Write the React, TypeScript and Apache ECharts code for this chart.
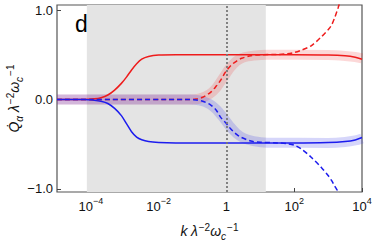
import React, { useEffect, useRef } from "react";
import * as echarts from "echarts";

// ---- axis settings / tick values ----
const X_MIN = 1e-5;
const X_MAX = 1e4;
const Y_MIN = -1.034;
const Y_MAX = 1.056;
const xTickValues = [1e-4, 1e-2, 1, 1e2, 1e4];
const yTickValues = [-1, 0, 1];
const yTickLabels = ["−1.0", "0.0", "1.0"];
const shadedFrom = 7.6e-5;
const shadedTo = 14.5;
const markerK = 1;
const panelLabel = "d";

// ---- series data: log10(k) positions and values ----
const redSolidLogK = [-5, -4.2, -3.9, -3.7, -3.5, -3.3, -3.1, -2.95, -2.8, -2.65, -2.5, -2.3, -2.0, -1.5, 2, 3, 3.5, 3.8, 4];
const redSolidQ = [0, 0, 0.007, 0.02, 0.05, 0.105, 0.18, 0.25, 0.33, 0.4, 0.45, 0.48, 0.496, 0.5, 0.5, 0.497, 0.488, 0.472, 0.45];

const blueSolidLogK = [-5, -4.2, -3.9, -3.7, -3.5, -3.3, -3.1, -2.95, -2.8, -2.65, -2.5, -2.3, -2.0, -1.5, 2, 3, 3.5, 3.8, 4];
const blueSolidQ = [0, 0, -0.008, -0.02, -0.045, -0.1, -0.18, -0.27, -0.36, -0.42, -0.45, -0.47, -0.48, -0.485, -0.487, -0.482, -0.47, -0.452, -0.425];

const redDashedLogK = [-5, -1.2, -0.9, -0.7, -0.47, -0.3, -0.18, -0.03, 0.13, 0.3, 0.45, 0.72, 1.0, 1.5, 1.8, 2.0, 2.2, 2.5, 2.8, 3.0, 3.1, 3.2, 3.3, 3.45];
const redDashedQ = [0, 0, 0.005, 0.025, 0.08, 0.15, 0.21, 0.305, 0.38, 0.43, 0.46, 0.49, 0.5, 0.503, 0.512, 0.525, 0.55, 0.6, 0.7, 0.78, 0.83, 0.92, 1.03, 1.22];

const blueDashedLogK = [-5, -1.2, -0.9, -0.7, -0.47, -0.3, -0.17, 0, 0.13, 0.3, 0.42, 0.72, 1.0, 1.5, 1.8, 2.0, 2.2, 2.5, 2.8, 3.0, 3.1, 3.2, 3.3, 3.45];
const blueDashedQ = [0, 0, -0.005, -0.02, -0.06, -0.12, -0.2, -0.27, -0.33, -0.39, -0.42, -0.465, -0.477, -0.485, -0.495, -0.51, -0.55, -0.645, -0.76, -0.85, -0.905, -0.97, -1.035, -1.17];

const redBandLogK = [-5, -1.1, -0.8, -0.5, -0.3, -0.1, 0.1, 0.3, 0.5, 0.8, 1.2, 3, 3.5, 3.8, 4];
const redBandQ = [0, 0, 0.01, 0.06, 0.13, 0.24, 0.35, 0.43, 0.47, 0.49, 0.5, 0.497, 0.487, 0.475, 0.46];

const blueBandLogK = [-5, -1.1, -0.8, -0.5, -0.3, -0.1, 0.1, 0.3, 0.5, 0.8, 1.2, 3, 3.5, 3.8, 4];
const blueBandQ = [0, 0, -0.01, -0.05, -0.11, -0.2, -0.3, -0.38, -0.43, -0.465, -0.483, -0.485, -0.475, -0.458, -0.435];

const RED = "#ee1c1c";
const BLUE = "#1c1cee";
const FONT = "Liberation Sans, Arial, sans-serif";

function pairs(logK: number[], q: number[]) {
  return logK.map((e, i) => [Math.pow(10, e), q[i]]);
}

function xLabel(v: number) {
  const e = Math.round(Math.log10(v));
  if (e === 0) return "{b|1}";
  return `{b|10}{s|${e < 0 ? "−" + -e : e}}`;
}

export default function App() {
  const ref = useRef<HTMLDivElement>(null);
  useEffect(() => {
    if (!ref.current) return;
    const chart = echarts.init(ref.current, undefined, { renderer: "svg" });
    const nameRich = {
      i: { fontSize: 14, lineHeight: 20, fontStyle: "italic", fontFamily: FONT, color: "#111", verticalAlign: "middle" },
      n: { fontSize: 14, lineHeight: 20, fontFamily: FONT, color: "#111", verticalAlign: "middle" },
      sup: { fontSize: 10, lineHeight: 10, fontFamily: FONT, color: "#111", verticalAlign: "top", padding: [1, 0, 0, 1] },
      sub: { fontSize: 10, lineHeight: 9, fontStyle: "italic", fontFamily: FONT, color: "#111", verticalAlign: "bottom" },
    };
    const bandLine = (data: number[][], color: string) => ({
      type: "line",
      data,
      showSymbol: false,
      smooth: 0.3,
      clip: true,
      z: 2,
      lineStyle: { width: 10, color, cap: "butt" },
      silent: true,
    });
    const curve = (data: number[][], color: string, dashed: boolean) => ({
      type: "line",
      data,
      showSymbol: false,
      smooth: 0.3,
      clip: true,
      z: 3,
      lineStyle: { width: 1.5, color, type: dashed ? [5, 3] : "solid" },
      silent: true,
    });
    chart.setOption({
      animation: false,
      grid: {
        left: 57,
        top: 5,
        right: 12,
        bottom: 49,
        outerBoundsMode: "none",
        containLabel: false,
        show: true,
        borderColor: "#555",
        borderWidth: 1.2,
        backgroundColor: "transparent",
      },
      xAxis: {
        type: "log",
        logBase: 10,
        min: X_MIN,
        max: X_MAX,
        axisLine: { show: false, onZero: false },
        splitLine: { show: false },
        minorTick: { show: false },
        axisTick: { show: true, inside: true, length: 4, lineStyle: { color: "#444" }, customValues: xTickValues },
        axisLabel: {
          customValues: xTickValues,
          formatter: (v: number) => xLabel(v),
          margin: 4,
          rich: {
            b: { fontSize: 13, lineHeight: 17, fontFamily: FONT, color: "#111", verticalAlign: "bottom" },
            s: { fontSize: 9, lineHeight: 10, fontFamily: FONT, color: "#111", verticalAlign: "top" },
          },
        },
        name: "{i|k} {i|λ}{sup|−2}{i|ω}{sub|c}{sup|−1}",
        nameLocation: "middle",
        nameGap: 29,
        nameMoveOverlap: false,
        nameTextStyle: { rich: nameRich },
      },
      yAxis: {
        type: "value",
        min: Y_MIN,
        max: Y_MAX,
        axisLine: { show: false, onZero: false },
        splitLine: { show: false },
        axisTick: { show: true, inside: true, length: 4, lineStyle: { color: "#444" }, customValues: yTickValues },
        axisLabel: {
          customValues: yTickValues,
          formatter: (v: number) => yTickLabels[yTickValues.indexOf(Math.round(v))] ?? "",
          margin: 4,
          fontSize: 13,
          fontFamily: FONT,
          color: "#111",
        },
        name: "{i|Q\u0307}{sub|α}{n| }{i|λ}{sup|−2}{i|ω}{sub|c}{sup|−1}",
        nameLocation: "middle",
        nameRotate: 90,
        nameGap: 33,
        nameMoveOverlap: false,
        nameTextStyle: { rich: nameRich },
      },
      graphic: [
        {
          type: "text",
          left: 75,
          top: 12,
          z: 10,
          style: { text: panelLabel, fontSize: 23, fontFamily: FONT, fill: "#000" },
        },
      ],
      series: [
        {
          type: "line",
          data: [],
          z: 1,
          silent: true,
          markArea: {
            silent: true,
            itemStyle: { color: "#e4e4e4" },
            data: [[{ xAxis: shadedFrom }, { xAxis: shadedTo }]],
          },
        },
        bandLine(pairs(redBandLogK, redBandQ), "rgba(240,40,40,0.18)"),
        bandLine(pairs(blueBandLogK, blueBandQ), "rgba(50,50,230,0.2)"),
        {
          type: "line",
          data: [],
          z: 4,
          silent: true,
          markLine: {
            silent: true,
            symbol: "none",
            label: { show: false },
            lineStyle: { color: "#777", type: [2, 2], width: 1.8 },
            data: [{ xAxis: markerK }],
          },
        },
        curve(pairs(redSolidLogK, redSolidQ), RED, false),
        curve(pairs(blueSolidLogK, blueSolidQ), BLUE, false),
        curve(pairs(redDashedLogK, redDashedQ), RED, true),
        curve(pairs(blueDashedLogK, blueDashedQ), BLUE, true),
      ],
    });
    return () => chart.dispose();
  }, []);
  return <div ref={ref} style={{ width: 374, height: 241, position: "absolute", left: 0, top: 0 }} />;
}
